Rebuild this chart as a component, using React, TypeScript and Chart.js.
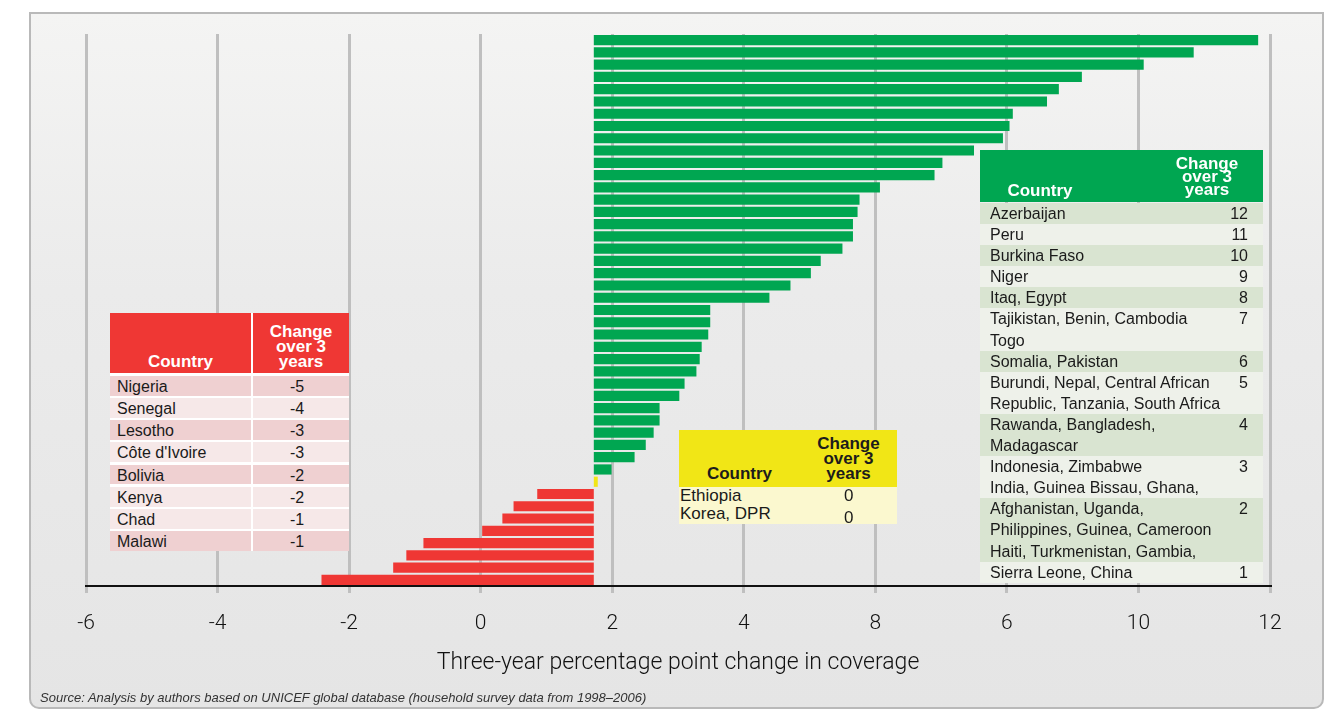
import React, { useEffect, useRef } from "react";
import { Chart, registerables } from "chart.js";

Chart.register(...registerables);

// ---- data ----
const GREEN_ENDS = [
  11.82, 10.84, 10.08, 9.14, 8.79, 8.61, 8.09, 8.04, 7.94, 7.5, 7.02, 6.9,
  6.07, 5.76, 5.73, 5.66, 5.66, 5.5, 5.17, 5.02, 4.71, 4.39, 3.49, 3.49,
  3.46, 3.36, 3.33, 3.28, 3.1, 3.02, 2.72, 2.72, 2.63, 2.51, 2.34, 1.99,
];
const YELLOW_ENDS = [1.78];
const RED_ENDS = [0.86, 0.5, 0.33, 0.0, -0.87, -1.13, -1.33, -2.42];
const BAR_BASE = 1.72;

const TICK_LABELS = ["-6", "-4", "-2", "0", "2", "4", "8", "6", "10", "12"];
const AXIS_TITLE = "Three-year percentage point change in coverage";
const SOURCE_TEXT =
  "Source: Analysis by authors based on UNICEF global database (household survey data from 1998–2006)";

const HEADER_COUNTRY = "Country";
const HEADER_CHANGE = ["Change", "over 3", "years"];

const RED_COUNTRIES = ["Nigeria", "Senegal", "Lesotho", "Côte d'Ivoire", "Bolivia", "Kenya", "Chad", "Malawi"];
const RED_CHANGES = ["-5", "-4", "-3", "-3", "-2", "-2", "-1", "-1"];

const YELLOW_COUNTRIES = ["Ethiopia", "Korea, DPR"];
const YELLOW_CHANGES = ["0", "0"];

const GREEN_COUNTRIES = [
  ["Azerbaijan"],
  ["Peru"],
  ["Burkina Faso"],
  ["Niger"],
  ["Itaq, Egypt"],
  ["Tajikistan, Benin, Cambodia", "Togo"],
  ["Somalia, Pakistan"],
  ["Burundi, Nepal, Central African", "Republic, Tanzania, South Africa"],
  ["Rawanda, Bangladesh,", "Madagascar"],
  ["Indonesia, Zimbabwe", "India, Guinea Bissau, Ghana,"],
  ["Afghanistan, Uganda,", "Philippines, Guinea, Cameroon", "Haiti, Turkmenistan, Gambia,"],
  ["Sierra Leone, China"],
];
const GREEN_CHANGES = ["12", "11", "10", "9", "8", "7", "6", "5", "4", "3", "2", "1"];

// ---- styles ----
const GREEN = "#00a651";
const RED = "#ef3734";
const YELLOW = "#f1e616";
const RED_ROW_DARK = [true, false, true, false, true, false, false, true];
const TABLE_FONT = '"Liberation Sans", Arial, sans-serif';
const AXIS_FONT = "Roboto";

function ChartCanvas() {
  const ref = useRef<HTMLCanvasElement | null>(null);
  useEffect(() => {
    if (!ref.current) return;
    const ends = [...GREEN_ENDS, ...YELLOW_ENDS, ...RED_ENDS];
    const colors = [
      ...GREEN_ENDS.map(() => GREEN),
      ...YELLOW_ENDS.map(() => YELLOW),
      ...RED_ENDS.map(() => RED),
    ];
    const chart = new Chart(ref.current, {
      type: "bar",
      data: {
        labels: ends.map((_, i) => String(i + 1)),
        datasets: [
          {
            data: ends.map((v) => [BAR_BASE, v]) as any,
            backgroundColor: colors,
            borderWidth: 0,
            barPercentage: 0.83,
            categoryPercentage: 1,
          },
        ],
      },
      options: {
        indexAxis: "y",
        responsive: false,
        animation: false,
        layout: { padding: { left: 86, right: 60, top: 34, bottom: 0 } },
        plugins: { legend: { display: false }, tooltip: { enabled: false } },
        scales: {
          x: {
            type: "linear",
            min: -6,
            max: 12,
            afterFit: (s: any) => {
              s.height = 123;
            },
            ticks: {
              stepSize: 2,
              callback: (_v: any, i: number) => TICK_LABELS[i],
              color: "#111111",
              font: { family: AXIS_FONT, size: 21, weight: "300" as any },
              padding: 18,
              maxRotation: 0,
            },
            grid: {
              color: "#bfbfbf",
              lineWidth: 3,
              drawTicks: true,
              tickLength: 7,
              tickColor: "#bfbfbf",
            },
            border: { display: true, color: "#111111", width: 2 },
            title: {
              display: true,
              text: AXIS_TITLE,
              color: "#111111",
              font: { family: AXIS_FONT, size: 23, weight: "300" as any },
              padding: { top: 0, bottom: 32 },
            },
          },
          y: {
            type: "category",
            display: false,
            offset: true,
            grid: { display: false },
          },
        },
      },
    });
    return () => chart.destroy();
  }, []);
  return (
    <canvas
      ref={ref}
      width={1330}
      height={709}
      style={{ position: "absolute", left: 0, top: 0, width: 1330, height: 709 }}
    />
  );
}

function HeaderChange({ lineHeight }: { lineHeight: number }) {
  return (
    <div style={{ lineHeight: `${lineHeight}px` }}>
      {HEADER_CHANGE.map((l, i) => (
        <div key={i}>{l}</div>
      ))}
    </div>
  );
}

function RedTable() {
  return (
    <div
      style={{
        position: "absolute",
        left: 110,
        top: 313,
        width: 239,
        display: "grid",
        gridTemplateColumns: "141px 96px",
        gridTemplateRows: "60.4px repeat(8, 19.8px)",
        columnGap: 2,
        rowGap: 2.4,
        background: "#ffffff",
        fontFamily: TABLE_FONT,
        fontSize: 16,
        color: "#1a1a1a",
      }}
    >
      <div
        style={{
          background: RED,
          color: "#fff",
          fontWeight: 700,
          fontSize: 17,
          display: "flex",
          alignItems: "flex-end",
          justifyContent: "center",
          paddingBottom: 4,
          lineHeight: "15px",
        }}
      >
        {HEADER_COUNTRY}
      </div>
      <div
        style={{
          background: RED,
          color: "#fff",
          fontWeight: 700,
          fontSize: 17,
          display: "flex",
          alignItems: "flex-end",
          justifyContent: "center",
          textAlign: "center",
          paddingBottom: 4,
        }}
      >
        <HeaderChange lineHeight={15} />
      </div>
      {RED_COUNTRIES.map((c, i) => (
        <React.Fragment key={c}>
          <div
            style={{
              background: RED_ROW_DARK[i] ? "#efd0d1" : "#f6e8e8",
              paddingLeft: 7,
              lineHeight: "21px",
              height: 19.8,
              whiteSpace: "nowrap",
            }}
          >
            {c}
          </div>
          <div
            style={{
              background: RED_ROW_DARK[i] ? "#efd0d1" : "#f6e8e8",
              textAlign: "center",
              paddingRight: 8,
              lineHeight: "21px",
              height: 19.8,
            }}
          >
            {RED_CHANGES[i]}
          </div>
        </React.Fragment>
      ))}
    </div>
  );
}

function GreenTable() {
  const lh = 21.1;
  return (
    <div
      style={{
        position: "absolute",
        left: 980,
        top: 150,
        width: 283,
        fontFamily: TABLE_FONT,
        fontSize: 16,
        color: "#1a1a1a",
      }}
    >
      <div
        style={{
          position: "relative",
          height: 52,
          background: GREEN,
          color: "#fff",
          fontWeight: 700,
          fontSize: 17,
        }}
      >
        <div style={{ position: "absolute", left: 0, width: 120, bottom: 4, textAlign: "center", lineHeight: "15px" }}>
          {HEADER_COUNTRY}
        </div>
        <div style={{ position: "absolute", left: 170, width: 114, bottom: 6, textAlign: "center" }}>
          <HeaderChange lineHeight={13} />
        </div>
      </div>
      <div style={{ height: 1 }} />
      {GREEN_COUNTRIES.map((lines, i) => (
        <div
          key={i}
          style={{
            position: "relative",
            background: i % 2 === 0 ? "#d9e4d1" : "#eef1ea",
            paddingLeft: 10,
          }}
        >
          {lines.map((l, j) => (
            <div key={j} style={{ height: lh, lineHeight: `${lh}px`, whiteSpace: "nowrap" }}>
              {l}
            </div>
          ))}
          <div style={{ position: "absolute", right: 15, top: 0, lineHeight: `${lh}px` }}>{GREEN_CHANGES[i]}</div>
        </div>
      ))}
    </div>
  );
}

function YellowTable() {
  return (
    <div
      style={{
        position: "absolute",
        left: 679,
        top: 430,
        width: 218,
        fontFamily: TABLE_FONT,
        color: "#1a1a1a",
      }}
    >
      <div
        style={{
          display: "flex",
          height: 57,
          background: YELLOW,
          fontWeight: 700,
          fontSize: 17,
          color: "#1c1c1c",
        }}
      >
        <div
          style={{
            width: 121,
            display: "flex",
            alignItems: "flex-end",
            justifyContent: "center",
            paddingBottom: 6,
            lineHeight: "15px",
          }}
        >
          {HEADER_COUNTRY}
        </div>
        <div
          style={{
            width: 97,
            display: "flex",
            alignItems: "flex-end",
            justifyContent: "center",
            textAlign: "center",
            paddingBottom: 6,
          }}
        >
          <HeaderChange lineHeight={15} />
        </div>
      </div>
      <div style={{ background: "#fbf8cf", fontSize: 17 }}>
        {YELLOW_COUNTRIES.map((c, i) => (
          <div key={c} style={{ display: "flex", height: 18.3, lineHeight: "18.3px" }}>
            <div style={{ width: 121, paddingLeft: 1, whiteSpace: "nowrap" }}>{c}</div>
            <div style={{ width: 97, textAlign: "center", position: "relative", top: i === 1 ? 4 : 0 }}>
              {YELLOW_CHANGES[i]}
            </div>
          </div>
        ))}
      </div>
    </div>
  );
}

export default function App() {
  return (
    <div style={{ position: "absolute", left: 0, top: 0, width: 1330, height: 709, background: "#fff", overflow: "hidden" }}>
      <div
        style={{
          position: "absolute",
          left: 29,
          top: 12,
          width: 1295,
          height: 697,
          boxSizing: "border-box",
          border: "2px solid #b9b9b9",
          borderRadius: "0 0 10px 10px",
          background: "linear-gradient(#f4f4f3 0%, #ebebeb 40%, #e5e5e5 100%)",
        }}
      />
      <ChartCanvas />
      <RedTable />
      <YellowTable />
      <GreenTable />
      <div
        style={{
          position: "absolute",
          left: 40,
          top: 690,
          fontFamily: TABLE_FONT,
          fontStyle: "italic",
          fontSize: 13,
          lineHeight: "15px",
          color: "#333",
          whiteSpace: "nowrap",
        }}
      >
        {SOURCE_TEXT}
      </div>
    </div>
  );
}
